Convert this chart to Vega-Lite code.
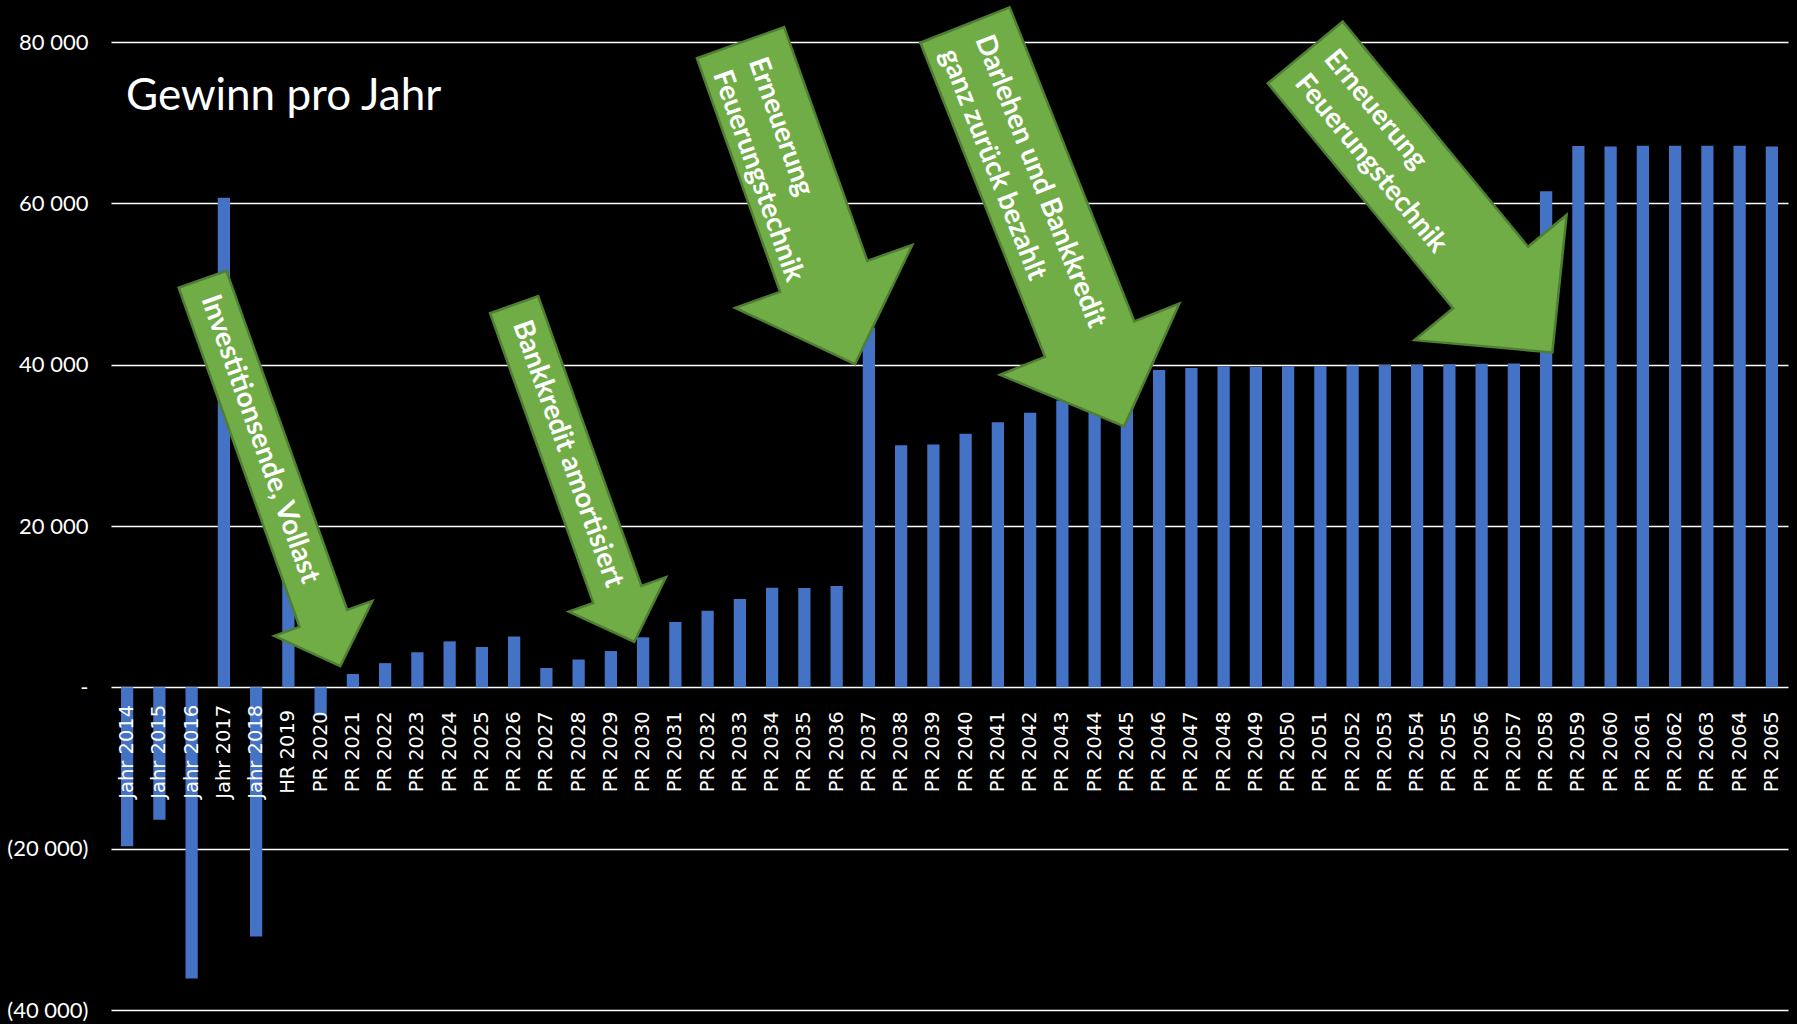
{
  "$schema": "https://vega.github.io/schema/vega-lite/v6.json",
  "background": "#000000",
  "autosize": {"type": "none"},
  "padding": {"left": 111, "top": 42, "right": 9, "bottom": 14},
  "width": 1677,
  "height": 968,
  "title": {"text": "Gewinn pro Jahr", "anchor": "start", "frame": "group", "offset": -152, "dx": 15, "baseline": "alphabetic", "font": "Lato", "fontSize": 44, "fontWeight": "normal", "color": "#FFFFFF"},
  "config": {"view": {"stroke": null}},
  "layer": [
    {
      "data": {"values": [
        {"Jahr": "Jahr 2014", "Gewinn": -19700},
        {"Jahr": "Jahr 2015", "Gewinn": -16400},
        {"Jahr": "Jahr 2016", "Gewinn": -36100},
        {"Jahr": "Jahr 2017", "Gewinn": 60700},
        {"Jahr": "Jahr 2018", "Gewinn": -30900},
        {"Jahr": "HR 2019", "Gewinn": 14500},
        {"Jahr": "PR 2020", "Gewinn": -3500},
        {"Jahr": "PR 2021", "Gewinn": 1650},
        {"Jahr": "PR 2022", "Gewinn": 3000},
        {"Jahr": "PR 2023", "Gewinn": 4350},
        {"Jahr": "PR 2024", "Gewinn": 5700},
        {"Jahr": "PR 2025", "Gewinn": 5000},
        {"Jahr": "PR 2026", "Gewinn": 6300},
        {"Jahr": "PR 2027", "Gewinn": 2400},
        {"Jahr": "PR 2028", "Gewinn": 3450},
        {"Jahr": "PR 2029", "Gewinn": 4500},
        {"Jahr": "PR 2030", "Gewinn": 6200},
        {"Jahr": "PR 2031", "Gewinn": 8100},
        {"Jahr": "PR 2032", "Gewinn": 9500},
        {"Jahr": "PR 2033", "Gewinn": 10950},
        {"Jahr": "PR 2034", "Gewinn": 12350},
        {"Jahr": "PR 2035", "Gewinn": 12300},
        {"Jahr": "PR 2036", "Gewinn": 12550},
        {"Jahr": "PR 2037", "Gewinn": 44600},
        {"Jahr": "PR 2038", "Gewinn": 30000},
        {"Jahr": "PR 2039", "Gewinn": 30100},
        {"Jahr": "PR 2040", "Gewinn": 31450},
        {"Jahr": "PR 2041", "Gewinn": 32850},
        {"Jahr": "PR 2042", "Gewinn": 34050},
        {"Jahr": "PR 2043", "Gewinn": 35550},
        {"Jahr": "PR 2044", "Gewinn": 37000},
        {"Jahr": "PR 2045", "Gewinn": 38300},
        {"Jahr": "PR 2046", "Gewinn": 39350},
        {"Jahr": "PR 2047", "Gewinn": 39600},
        {"Jahr": "PR 2048", "Gewinn": 39800},
        {"Jahr": "PR 2049", "Gewinn": 39700},
        {"Jahr": "PR 2050", "Gewinn": 39800},
        {"Jahr": "PR 2051", "Gewinn": 39850},
        {"Jahr": "PR 2052", "Gewinn": 39900},
        {"Jahr": "PR 2053", "Gewinn": 39950},
        {"Jahr": "PR 2054", "Gewinn": 40000},
        {"Jahr": "PR 2055", "Gewinn": 40050},
        {"Jahr": "PR 2056", "Gewinn": 40100},
        {"Jahr": "PR 2057", "Gewinn": 40150},
        {"Jahr": "PR 2058", "Gewinn": 61500},
        {"Jahr": "PR 2059", "Gewinn": 67100},
        {"Jahr": "PR 2060", "Gewinn": 67050},
        {"Jahr": "PR 2061", "Gewinn": 67150},
        {"Jahr": "PR 2062", "Gewinn": 67150},
        {"Jahr": "PR 2063", "Gewinn": 67150},
        {"Jahr": "PR 2064", "Gewinn": 67150},
        {"Jahr": "PR 2065", "Gewinn": 67050}
      ]},
      "mark": {"type": "bar", "color": "#4472C4"},
      "encoding": {
        "x": {
          "field": "Jahr", "type": "nominal", "sort": null,
          "scale": {
            "domain": ["Jahr 2014","Jahr 2015","Jahr 2016","Jahr 2017","Jahr 2018","HR 2019","PR 2020","PR 2021","PR 2022","PR 2023","PR 2024","PR 2025","PR 2026","PR 2027","PR 2028","PR 2029","PR 2030","PR 2031","PR 2032","PR 2033","PR 2034","PR 2035","PR 2036","PR 2037","PR 2038","PR 2039","PR 2040","PR 2041","PR 2042","PR 2043","PR 2044","PR 2045","PR 2046","PR 2047","PR 2048","PR 2049","PR 2050","PR 2051","PR 2052","PR 2053","PR 2054","PR 2055","PR 2056","PR 2057","PR 2058","PR 2059","PR 2060","PR 2061","PR 2062","PR 2063","PR 2064","PR 2065"],
            "paddingInner": 0.62, "paddingOuter": 0.31
          },
          "axis": {"title": null, "orient": "bottom", "offset": -322.7, "domain": false, "ticks": false, "grid": false, "labelAngle": 270, "labelAlign": "center", "labelBaseline": "middle", "labelPadding": 64, "labelFont": "DejaVu Sans", "labelFontSize": 19.5, "labelColor": "#FFFFFF", "labelOverlap": false, "zindex": 1}
        },
        "y": {
          "field": "Gewinn", "type": "quantitative",
          "scale": {"domain": [-40000, 80000], "nice": false, "zero": false},
          "axis": {"title": null, "values": [-40000, -20000, 0, 20000, 40000, 60000, 80000], "grid": true, "gridColor": "#FFFFFF", "gridWidth": 1.5, "domain": false, "ticks": false, "labelFont": "Lato", "labelFontSize": 22, "labelColor": "#FFFFFF", "labelPadding": 23,
            "labelExpr": "datum.value == 0 ? '-\u00a0\u00a0' : (datum.value < 0 ? '(' + replace(format(-datum.value, ','), ',', ' ') + ')' : replace(format(datum.value, ','), ',', ' ') + '\u00a0\u00a0')"}
        }
      }
    },
    {
      "data": {"values": [{"Jahr": "HR 2019", "Gewinn": 27000, "Text": "Investitionsende, Vollast"}]},
      "encoding": {"x": {"field": "Jahr", "type": "nominal", "sort": null}, "y": {"field": "Gewinn", "type": "quantitative"}},
      "layer": [
        {"mark": {"type": "point", "shape": "M-109.7,-181.8L-62,-198.8L58.8,140.3L83.9,131.4L51.9,196.5L-14.1,166.3L11.1,157.3Z", "size": 4, "filled": true, "fill": "#70AD47", "stroke": "#507E32", "strokeWidth": 2.5, "opacity": 1}},
        {"mark": {"type": "text", "font": "Lato", "fontSize": 28, "fontWeight": "bold", "color": "#FFFFFF", "angle": 70.4, "align": "center", "baseline": "middle", "dx": -38.1, "dy": 17.0}, "encoding": {"text": {"field": "Text"}}}
      ]
    },
    {
      "data": {"values": [{"Jahr": "PR 2028", "Gewinn": 27000, "Text": "Bankkredit amortisiert"}]},
      "encoding": {"x": {"field": "Jahr", "type": "nominal", "sort": null}, "y": {"field": "Gewinn", "type": "quantitative"}},
      "layer": [
        {"mark": {"type": "point", "shape": "M-88.5,-156.3L-40.5,-173.4L62.8,116.3L87.3,107.6L55.6,172.2L-9.8,142.1L14.7,133.4Z", "size": 4, "filled": true, "fill": "#70AD47", "stroke": "#507E32", "strokeWidth": 2.5, "opacity": 1}},
        {"mark": {"type": "text", "font": "Lato", "fontSize": 28, "fontWeight": "bold", "color": "#FFFFFF", "angle": 70.4, "align": "center", "baseline": "middle", "dx": -18.4, "dy": 5.4}, "encoding": {"text": {"field": "Text"}}}
      ]
    },
    {
      "data": {"values": [{"Jahr": "PR 2035", "Gewinn": 60000, "Text": "Erneuerung\nFeuerungstechnik"}]},
      "encoding": {"x": {"field": "Jahr", "type": "nominal", "sort": null}, "y": {"field": "Gewinn", "type": "quantitative"}},
      "layer": [
        {"mark": {"type": "point", "shape": "M-107.5,-145.1L-20.3,-176.2L62.9,57.5L107.9,41.5L50.6,160.8L-69.3,104.5L-24.3,88.5Z", "size": 4, "filled": true, "fill": "#70AD47", "stroke": "#507E32", "strokeWidth": 2.5, "opacity": 1}},
        {"mark": {"type": "text", "font": "Lato", "fontSize": 28, "fontWeight": "bold", "color": "#FFFFFF", "angle": 70.4, "align": "left", "baseline": "middle", "lineBreak": "\n", "lineHeight": 38, "dx": -152.3, "dy": -3}, "encoding": {"text": {"field": "Text"}}}
      ]
    },
    {
      "data": {"values": [{"Jahr": "PR 2042", "Gewinn": 57000, "Text": "Darlehen und Bankkredit\nganz zurück bezahlt"}]},
      "encoding": {"x": {"field": "Jahr", "type": "nominal", "sort": null}, "y": {"field": "Gewinn", "type": "quantitative"}},
      "layer": [
        {"mark": {"type": "point", "shape": "M-109.8,-184.8L-20.5,-220.2L104.2,93.9L149.2,76.1L94.1,198.8L-30.2,147.2L14.9,129.3Z", "size": 4, "filled": true, "fill": "#70AD47", "stroke": "#507E32", "strokeWidth": 2.5, "opacity": 1}},
        {"mark": {"type": "text", "font": "Lato", "fontSize": 28, "fontWeight": "bold", "color": "#FFFFFF", "angle": 68.4, "align": "left", "baseline": "middle", "lineBreak": "\n", "lineHeight": 38, "dx": -195, "dy": -26}, "encoding": {"text": {"field": "Text"}}}
      ]
    },
    {
      "data": {"values": [{"Jahr": "PR 2054", "Gewinn": 60000, "Text": "Erneuerung\nFeuerungstechnik"}]},
      "encoding": {"x": {"field": "Jahr", "type": "nominal", "sort": null}, "y": {"field": "Gewinn", "type": "quantitative"}},
      "layer": [
        {"mark": {"type": "point", "shape": "M-149.3,-120L-74.4,-181.7L110.9,43.4L149.5,11.6L135.2,149.1L-2.6,136.8L36,105Z", "size": 4, "filled": true, "fill": "#70AD47", "stroke": "#507E32", "strokeWidth": 2.5, "opacity": 1}},
        {"mark": {"type": "text", "font": "Lato", "fontSize": 28, "fontWeight": "bold", "color": "#FFFFFF", "angle": 50.5, "align": "left", "baseline": "middle", "lineBreak": "\n", "lineHeight": 38, "dx": -171.0, "dy": -27}, "encoding": {"text": {"field": "Text"}}}
      ]
    }
  ]
}
